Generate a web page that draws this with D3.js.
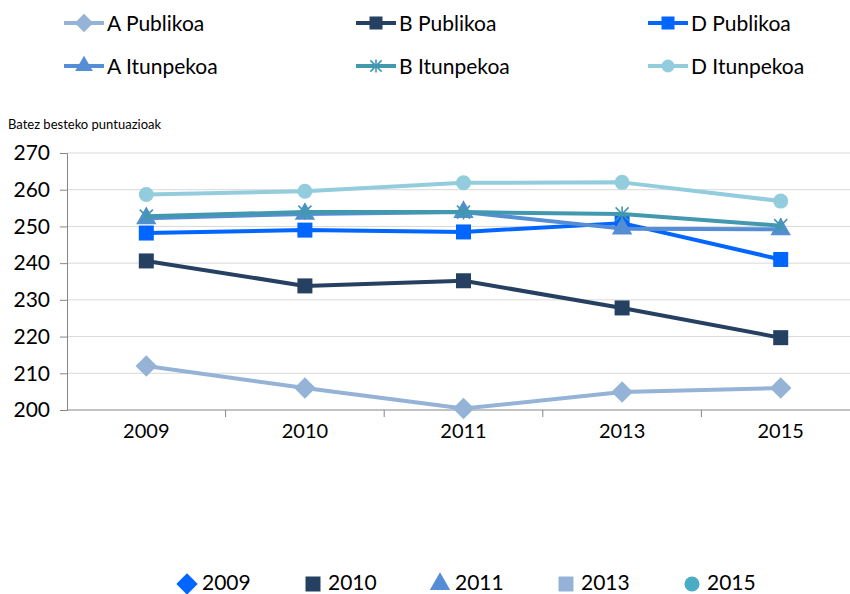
<!DOCTYPE html>
<html>
<head>
<meta charset="utf-8">
<script src="https://cdn.jsdelivr.net/npm/d3@7"></script>
<style>
  body { margin: 0; background: #fff; }
  svg { font-family: Lato, "Open Sans", sans-serif; }
</style>
</head>
<body>
<svg id="drawing_region"></svg>
<script>
// data
const years = ['2009', '2010', '2011', '2013', '2015'];
const seriesNames = ['A Publikoa', 'B Publikoa', 'D Publikoa', 'A Itunpekoa', 'B Itunpekoa', 'D Itunpekoa'];
const aPublikoa   = [212.0, 206.0, 200.4, 204.9, 206.0];
const bPublikoa   = [240.6, 233.8, 235.2, 227.8, 219.7];
const dPublikoa   = [248.2, 249.0, 248.5, 250.9, 241.0];
const aItunpekoa  = [252.2, 253.4, 253.9, 249.4, 249.2];
const bItunpekoa  = [252.8, 253.9, 253.9, 253.4, 250.2];
const dItunpekoa  = [258.7, 259.6, 261.9, 262.0, 256.9];
const yTicks = [200, 210, 220, 230, 240, 250, 260, 270];
const yearLegend = ['2009', '2010', '2011', '2013', '2015'];

const series = [
  { name: seriesNames[0], values: aPublikoa,  color: '#95b3d7', shape: 'diamond' },
  { name: seriesNames[1], values: bPublikoa,  color: '#254061', shape: 'square' },
  { name: seriesNames[2], values: dPublikoa,  color: '#0066ff', shape: 'square' },
  { name: seriesNames[3], values: aItunpekoa, color: '#558ed5', shape: 'triangle' },
  { name: seriesNames[4], values: bItunpekoa, color: '#4198af', shape: 'star' },
  { name: seriesNames[5], values: dItunpekoa, color: '#93cddd', shape: 'circle' },
];

const width = 850, height = 594;
const margin = { left: 67, right: -10, top: 153, bottom: 184 };

const svg = d3.select('#drawing_region')
  .attr('width', width)
  .attr('height', height);

const x = d3.scaleBand()
  .domain(years)
  .range([margin.left, width - margin.right]);

const y = d3.scaleLinear()
  .domain([200, 270])
  .range([height - margin.bottom, margin.top]);

// gridlines
svg.append('g')
  .selectAll('line')
  .data(yTicks.slice(1))
  .join('line')
  .attr('x1', margin.left)
  .attr('x2', width)
  .attr('y1', d => y(d))
  .attr('y2', d => y(d))
  .attr('stroke', '#d9d9d9')
  .attr('stroke-width', 1);

// y axis
const yAxis = svg.append('g')
  .attr('transform', `translate(${margin.left},0)`)
  .call(d3.axisLeft(y).tickValues(yTicks).tickSize(7).tickPadding(10));
yAxis.select('.domain').attr('stroke', '#868686');
yAxis.selectAll('.tick line').attr('stroke', '#868686');
yAxis.selectAll('text')
  .attr('font-size', 21)
  .attr('font-family', 'Lato, sans-serif')
  .attr('fill', '#000');

// x axis
const xAxis = svg.append('g')
  .attr('transform', `translate(0,${y(200)})`)
  .call(d3.axisBottom(x).tickSize(0).tickPadding(14));
xAxis.select('.domain').attr('stroke', '#868686').attr('d', `M${margin.left},0H${width}`);
xAxis.selectAll('text')
  .attr('font-size', 20)
  .attr('font-family', 'Lato, sans-serif')
  .attr('fill', '#000');
// category separators
svg.append('g')
  .selectAll('line')
  .data(years)
  .join('line')
  .attr('x1', d => x(d) + x.bandwidth())
  .attr('x2', d => x(d) + x.bandwidth())
  .attr('y1', y(200))
  .attr('y2', y(200) + 7)
  .attr('stroke', '#868686');

svg.append('text')
  .attr('x', 8)
  .attr('y', 129)
  .attr('font-size', 13)
  .attr('fill', '#000')
  .text('Batez besteko puntuazioak');

function drawMarker(g, shape, color, cx, cy, s) {
  if (shape === 'diamond') {
    g.append('path').attr('d', d3.symbol(d3.symbolDiamond2, s * s * 1.3)())
      .attr('transform', `translate(${cx},${cy})`).attr('fill', color);
  } else if (shape === 'square') {
    g.append('rect').attr('x', cx - s / 2).attr('y', cy - s / 2)
      .attr('width', s).attr('height', s).attr('fill', color);
  } else if (shape === 'triangle') {
    g.append('path').attr('d', d3.symbol(d3.symbolTriangle, s * s * 0.8)())
      .attr('transform', `translate(${cx},${cy})`).attr('fill', color);
  } else if (shape === 'circle') {
    g.append('circle').attr('cx', cx).attr('cy', cy).attr('r', s / 2).attr('fill', color);
  } else if (shape === 'star') {
    g.append('path').attr('d', d3.symbol(d3.symbolTimes, s * s * 0.5)())
      .attr('transform', `translate(${cx},${cy})`).attr('stroke', color).attr('stroke-width', 1.6).attr('fill', 'none');
    g.append('line').attr('x1', cx).attr('x2', cx).attr('y1', cy - s / 2).attr('y2', cy + s / 2)
      .attr('stroke', color).attr('stroke-width', 1.6);
  }
}

const line = d3.line()
  .x((d, i) => x(years[i]) + x.bandwidth() / 2)
  .y(d => y(d));

// series lines & markers
series.forEach(s => {
  const g = svg.append('g');
  g.append('path')
    .datum(s.values)
    .attr('d', line)
    .attr('fill', 'none')
    .attr('stroke', s.color)
    .attr('stroke-width', 4)
    .attr('stroke-linejoin', 'round');
  s.values.forEach((v, i) => {
    drawMarker(g, s.shape, s.color, x(years[i]) + x.bandwidth() / 2, y(v), 15);
  });
});

// top legend
const legendX = [64, 356, 648];
const legendY = [23, 66];
series.forEach((s, i) => {
  const lx = legendX[i % 3], ly = legendY[Math.floor(i / 3)];
  const g = svg.append('g');
  g.append('line').attr('x1', lx).attr('x2', lx + 40).attr('y1', ly).attr('y2', ly)
    .attr('stroke', s.color).attr('stroke-width', 4);
  drawMarker(g, s.shape, s.color, lx + 20, ly, 13);
  g.append('text').attr('x', lx + 43).attr('y', ly + 7.5)
    .attr('font-size', 21).attr('fill', '#000').text(s.name);
});

// bottom legend
const yearColors = ['#0066ff', '#254061', '#558ed5', '#95b3d7', '#4bacc6'];
const yearShapes = ['diamond', 'square', 'triangle', 'square', 'circle'];
const yearX = [187, 313, 440, 566, 692];
yearLegend.forEach((t, i) => {
  const g = svg.append('g');
  drawMarker(g, yearShapes[i], yearColors[i], yearX[i], 584, 15);
  g.append('text').attr('x', yearX[i] + 15).attr('y', 590)
    .attr('font-size', 21).attr('fill', '#000').text(t);
});
</script>
</body>
</html>
